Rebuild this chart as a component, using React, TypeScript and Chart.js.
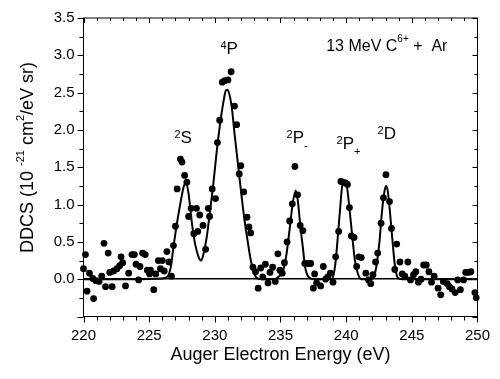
import { useEffect, useRef } from 'react';
import { Chart, registerables } from 'chart.js';

Chart.register(...registerables);

const FONT = '"Liberation Sans", Arial, sans-serif';

// measured data points (energy eV, DDCS)
const energies = [
  220.0, 220.15, 220.27, 220.45, 220.7, 220.77, 220.94, 221.19, 221.39, 221.56,
  221.68, 221.88, 222.0, 222.18, 222.3, 222.55, 222.75, 222.86, 222.98, 223.2,
  223.44, 223.69, 223.87, 224.0, 224.2, 224.3, 224.5, 224.7, 224.86, 225.03,
  225.1, 225.35, 225.5, 225.7, 225.86, 226.0, 226.15, 226.35, 226.5, 226.7,
  226.85, 227.0, 227.13, 227.38, 227.5, 227.7, 227.87, 228.0, 228.2, 228.4,
  228.6, 228.7, 228.85, 229.1, 229.3, 229.5, 229.6, 229.8, 230.05, 230.2,
  230.37, 230.57, 230.75, 231.0, 231.24, 231.5, 231.66, 231.86, 231.98, 232.2,
  232.45, 232.6, 232.73, 232.9, 233.1, 233.3, 233.5, 233.65, 233.85, 234.05,
  234.2, 234.4, 234.6, 234.8, 234.96, 235.13, 235.3, 235.5, 235.7, 235.9,
  236.1, 236.3, 236.5, 236.7, 236.85, 237.05, 237.3, 237.5, 237.6, 237.75,
  238.06, 238.26, 238.44, 238.6, 238.8, 239.0, 239.2, 239.43, 239.6, 239.75,
  239.93, 240.1, 240.25, 240.4, 240.6, 240.8, 240.97, 241.15, 241.5, 241.7,
  241.87, 242.04, 242.24, 242.4, 242.66, 242.84, 243.03, 243.3, 243.45, 243.7,
  243.85, 244.1, 244.27, 244.47, 244.7, 244.9, 245.13, 245.3, 245.5, 245.7,
  245.9, 246.1, 246.3, 246.5, 246.7, 247.0, 247.2, 247.4, 247.7, 247.86,
  248.06, 248.3, 248.5, 248.7, 248.94, 249.1, 249.3, 249.5, 249.8, 249.9,
];
const ddcs = [
  0.14, 0.33, -0.16, 0.08, 0.01, -0.26, -0.02, -0.03, 0.04, 0.48,
  -0.10, 0.35, 0.09, -0.10, 0.11, 0.14, 0.18, 0.30, 0.22, -0.09,
  0.08, 0.33, 0.33, 0.20, -0.01, 0.17, 0.35, 0.33, 0.12, 0.07,
  0.12, -0.14, 0.07, 0.25, 0.14, 0.25, 0.11, 0.37, 0.23, 0.04,
  0.45, 0.71, 1.21, 1.61, 1.57, 1.39, 1.30, 0.84, 0.95, 0.61,
  0.95, 0.64, 0.86, 0.72, 0.40, 0.95, 0.84, 1.21, 1.08, 1.83,
  2.13, 2.64, 2.66, 2.67, 2.78, 2.32, 2.07, 1.41, 1.52, 1.17,
  0.83, 0.70, 0.62, 0.16, 0.10, -0.12, 0.15, 0.03, 0.20, -0.05,
  0.09, 0.16, -0.03, 0.34, 0.12, 0.08, 0.22, 0.50, 0.78, 1.01,
  1.51, 1.13, 0.72, 0.65, 0.21, 0.21, 0.21, -0.12, 0.07, -0.05,
  -0.09, 0.17, 0.0, 0.03, 0.08, -0.04, 0.30, 0.64, 1.31, 1.30,
  1.29, 1.27, 0.96, 0.58, 0.56, 0.17, 0.30, 0.29, 0.08, -0.01,
  -0.06, 0.06, 0.23, 0.35, 0.75, 1.09, 1.40, 1.04, 0.68, 0.13,
  0.47, 0.23, 0.07, 0.04, 0.23, -0.01, 0.06, 0.10, -0.04, 0.0,
  0.19, 0.19, 0.10, -0.04, 0.04, -0.12, -0.21, -0.03, -0.06, -0.10,
  -0.13, -0.18, -0.01, -0.14, -0.01, 0.09, 0.09, 0.10, -0.18, -0.25,
];

// fitted curve
const fitEnergies = [
  220, 224, 225.5, 226.28, 226.65, 226.85, 227.1, 227.4, 227.65, 227.82,
  228.02, 228.27, 228.5, 228.76, 228.96, 229.14, 229.38, 229.63, 229.87, 230.13,
  230.37, 230.62, 230.82, 230.95, 231.12, 231.32, 231.5, 231.75, 232.0, 232.24,
  232.5, 232.74, 232.99, 233.24, 233.6, 234.6, 234.84, 235.21, 235.46, 235.71,
  235.91, 236.16, 236.33, 236.5, 236.7, 236.88, 237.13, 237.5, 238.7, 238.94,
  239.18, 239.38, 239.56, 239.73, 239.88, 240.05, 240.25, 240.45, 240.67, 240.92,
  241.17, 241.8, 242.04, 242.29, 242.54, 242.73, 242.91, 243.03, 243.16, 243.33,
  243.53, 243.73, 243.98, 244.3, 250,
];
const fitValues = [
  0, 0, 0.005, 0.02, 0.165, 0.43, 0.73, 1.04, 1.25, 1.29,
  1.12, 0.73, 0.47, 0.30, 0.25, 0.34, 0.56, 0.91, 1.25, 1.69,
  2.04, 2.34, 2.52, 2.54, 2.47, 2.26, 1.95, 1.56, 1.17, 0.82,
  0.51, 0.25, 0.08, 0.01, 0, 0, 0.03, 0.12, 0.34, 0.69,
  0.99, 1.19, 1.04, 0.73, 0.43, 0.16, 0.03, 0, 0, 0.01,
  0.21, 0.60, 0.99, 1.28, 1.30, 1.25, 0.95, 0.60, 0.25, 0.06,
  0, 0, 0.01, 0.16, 0.51, 0.91, 1.17, 1.25, 1.19, 0.91,
  0.51, 0.16, 0.01, 0, 0,
];

const xMin = 220;
const xMax = 250;
const xMajorStep = 5;
const xMinorStep = 1;
const yMin = -0.5;
const yMax = 3.5;
const yMajorStep = 0.5;
const yMinorStep = 0.25;
const hiddenYLabels = [-0.5];

const xTitle = 'Auger Electron Energy (eV)';

type Seg = { t: string; size: number; dy?: number };
type Note = { x: number; y: number; segs: Seg[] };

// peak labels, anchored (left, baseline) in data units
const notes: Note[] = [
  { x: 226.92, y: 1.83, segs: [{ t: '2', size: 11, dy: -5 }, { t: 'S', size: 17 }] },
  { x: 230.43, y: 3.02, segs: [{ t: '4', size: 11, dy: -5 }, { t: 'P', size: 17 }] },
  { x: 235.46, y: 1.82, segs: [{ t: '2', size: 11, dy: -5 }, { t: 'P', size: 17 }, { t: '-', size: 11, dy: 6 }] },
  { x: 239.27, y: 1.75, segs: [{ t: '2', size: 11, dy: -5 }, { t: 'P', size: 17 }, { t: '+', size: 11, dy: 6 }] },
  { x: 242.39, y: 1.88, segs: [{ t: '2', size: 11, dy: -5 }, { t: 'D', size: 17 }] },
  { x: 238.48, y: 3.06, segs: [{ t: '13 MeV C', size: 16 }, { t: '6+', size: 10, dy: -9 }, { t: ' +  Ar', size: 16 }] },
];

const yTitleSegs: Seg[] = [
  { t: 'DDCS (10 ', size: 18 },
  { t: '-21', size: 11, dy: -9 },
  { t: ' cm', size: 18 },
  { t: '2', size: 11, dy: -9 },
  { t: '/eV sr)', size: 18 },
];

function segWidth(ctx: CanvasRenderingContext2D, segs: Seg[]) {
  let w = 0;
  for (const s of segs) {
    ctx.font = `${s.size}px ${FONT}`;
    w += ctx.measureText(s.t).width;
  }
  return w;
}
function drawSegs(ctx: CanvasRenderingContext2D, segs: Seg[], x: number, y: number) {
  let cx = x;
  for (const s of segs) {
    ctx.font = `${s.size}px ${FONT}`;
    ctx.fillText(s.t, cx, y + (s.dy || 0));
    cx += ctx.measureText(s.t).width;
  }
}

const framePlugin = {
  id: 'frameTicks',
  afterDraw(chart: any) {
    const { ctx, chartArea: a, scales } = chart;
    const xs = scales.x;
    const ys = scales.y;
    ctx.save();
    ctx.strokeStyle = '#000';
    ctx.fillStyle = '#000';
    ctx.lineWidth = 1;
    ctx.strokeRect(a.left, a.top, a.right - a.left, a.bottom - a.top);
    ctx.beginPath();
    const eps = 1e-6;
    for (let v = xMin; v <= xMax + eps; v += xMinorStep) {
      const major = Math.abs(v / xMajorStep - Math.round(v / xMajorStep)) < eps;
      const px = Math.round(xs.getPixelForValue(v)) + 0.5;
      const lb = major ? 6 : 4;
      const lt = major ? 5 : 3;
      ctx.moveTo(px, a.bottom);
      ctx.lineTo(px, a.bottom + lb);
      ctx.moveTo(px, a.top);
      ctx.lineTo(px, a.top + lt);
    }
    for (let v = yMin; v <= yMax + eps; v += yMinorStep) {
      const major = Math.abs(v / yMajorStep - Math.round(v / yMajorStep)) < eps;
      const py = Math.round(ys.getPixelForValue(v)) + 0.5;
      const ll = major ? 6 : 4;
      const lr = major ? 5 : 3;
      ctx.moveTo(a.left, py);
      ctx.lineTo(a.left - ll, py);
      ctx.moveTo(a.right, py);
      ctx.lineTo(a.right - lr, py);
    }
    ctx.stroke();

    ctx.textAlign = 'left';
    ctx.textBaseline = 'alphabetic';
    for (const n of notes) {
      drawSegs(ctx, n.segs, xs.getPixelForValue(n.x), ys.getPixelForValue(n.y));
    }

    // x title
    ctx.font = `18px ${FONT}`;
    ctx.textAlign = 'center';
    ctx.fillText(xTitle, (a.left + a.right) / 2, 359.5);

    // y title
    ctx.textAlign = 'left';
    const w = segWidth(ctx, yTitleSegs);
    ctx.translate(33, 157.5);
    ctx.rotate(-Math.PI / 2);
    drawSegs(ctx, yTitleSegs, -w / 2, 0);
    ctx.restore();
  },
};

export default function App() {
  const ref = useRef<HTMLCanvasElement | null>(null);
  useEffect(() => {
    if (!ref.current) return;
    const chart = new Chart(ref.current, {
      type: 'scatter',
      data: {
        datasets: [
          {
            data: fitEnergies.map((x, i) => ({ x, y: fitValues[i] })),
            showLine: true,
            borderColor: '#000',
            borderWidth: 2,
            pointRadius: 0,
            cubicInterpolationMode: 'monotone',
            order: 2,
          } as any,
          {
            data: energies.map((x, i) => ({ x, y: ddcs[i] })),
            pointRadius: 3.4,
            pointBackgroundColor: '#000',
            pointBorderWidth: 0,
            borderColor: '#000',
            clip: 6,
            order: 1,
          } as any,
        ],
      },
      options: {
        animation: false,
        responsive: false,
        events: [],
        layout: { padding: { left: 0, top: 11.5, right: 12.5, bottom: 0 } },
        plugins: { legend: { display: false }, tooltip: { enabled: false } },
        scales: {
          x: {
            type: 'linear',
            min: xMin,
            max: xMax,
            afterFit: (s: any) => { s.height = 62.5; },
            ticks: { stepSize: xMajorStep, padding: 10, color: '#000', font: { family: FONT, size: 15 } },
            grid: { display: false, drawTicks: false },
            border: { display: false },
          },
          y: {
            type: 'linear',
            min: yMin,
            max: yMax,
            afterFit: (s: any) => { s.width = 83.5; },
            ticks: {
              stepSize: yMajorStep,
              padding: 9,
              color: '#000',
              font: { family: FONT, size: 15 },
              callback: (v: any) => (hiddenYLabels.includes(Number(v)) ? '' : Number(v).toFixed(1)),
            },
            grid: {
              drawTicks: false,
              color: (c: any) => (c.tick && c.tick.value === 0 ? '#000' : 'rgba(0,0,0,0)'),
              lineWidth: (c: any) => (c.tick && c.tick.value === 0 ? 1.5 : 0),
            },
            border: { display: false },
          },
        },
      } as any,
      plugins: [framePlugin],
    });
    return () => chart.destroy();
  }, []);
  return (
    <div style={{ position: 'absolute', left: 0, top: 0, width: 500, height: 379, background: '#fff' }}>
      <canvas ref={ref} width={500} height={379} style={{ display: 'block' }} />
    </div>
  );
}
